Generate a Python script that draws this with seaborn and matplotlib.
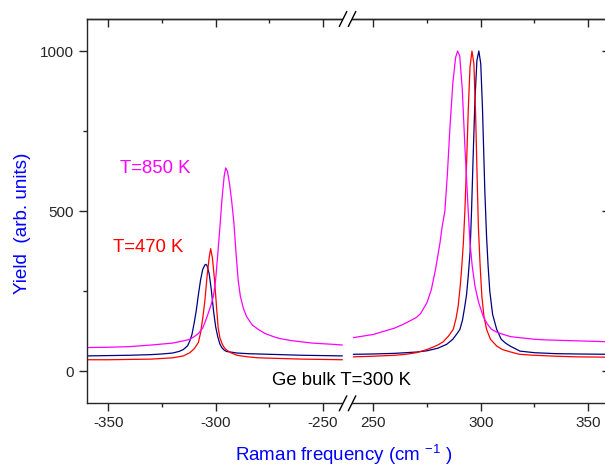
import pandas as pd
import matplotlib
matplotlib.use('Agg')
import matplotlib.pyplot as plt
import matplotlib.ticker as mtick
from matplotlib.patches import Polygon
from matplotlib.lines import Line2D
import seaborn as sns

# --- data: anti-Stokes (left) and Stokes (right) parts ---
labels = ['T=300 K', 'T=470 K', 'T=850 K']
colors = {'T=300 K': '#000080', 'T=470 K': '#ff0000', 'T=850 K': '#ff00ff'}

x300_as = [-360, -350, -340, -330, -325, -320, -317, -315, -313, -312, -311, -310, -309, -308, -307,
           -306, -305, -304.5, -304, -303, -302, -301, -300, -299, -298, -297, -296, -295, -293, -290,
           -285, -280, -270, -260, -250, -241]
y300_as = [48, 49, 50, 52, 54, 57, 62, 68, 80, 95, 115, 150, 190, 240, 285,
           318, 332, 334, 330, 305, 255, 190, 140, 108, 85, 73, 66, 62, 60, 57,
           55, 54, 52, 50, 49, 48]

x470_as = [-360, -350, -340, -330, -320, -315, -312, -310, -308, -307, -306, -305, -304, -303, -302.3,
           -301.5, -300.5, -299.5, -298.8, -298, -297, -296, -295, -293, -290, -285, -280, -270, -260,
           -250, -241]
y470_as = [36, 36, 37, 38, 42, 48, 58, 70, 90, 120, 165, 220, 295, 355, 383,
           355, 285, 195, 135, 105, 86, 74, 67, 58, 50, 45, 42, 40, 38,
           37, 36]

x850_as = [-360, -350, -340, -330, -320, -315, -312, -310, -308, -306, -305, -304, -303, -302, -301,
           -300, -299, -298, -297, -296, -295.3, -294.5, -293.5, -292.5, -291.5, -290.5, -289.5, -288.5,
           -287, -285.5, -283, -280, -277, -273, -270, -265, -260, -255, -250, -245, -241]
y850_as = [74, 75, 77, 82, 88, 95, 100, 108, 118, 135, 152, 170, 190, 210, 235,
           285, 365, 450, 540, 610, 635, 625, 585, 530, 465, 370, 285, 235,
           195, 170, 145, 130, 118, 108, 102, 96, 92, 88, 86, 84, 82]

x300_s = [240.7, 250, 260, 270, 275, 280, 284.1, 287, 289, 290.3, 291.5, 292.5, 293.4, 294.2, 295,
          295.7, 296.5, 297.3, 298.2, 299.1, 300, 300.8, 301.9, 302.7, 303.4, 304.2, 305.5, 307.4,
          309.5, 311.5, 313.6, 318.2, 325, 335, 345, 360]
y300_s = [53, 54, 56, 60, 64, 72, 84, 100, 118, 131, 160, 200, 240, 300, 370,
          500, 680, 850, 970, 1000, 960, 820, 560, 420, 330, 250, 178, 131,
          100, 88, 79, 63, 58, 55, 54, 53]

x470_s = [240.7, 250, 260, 265, 270, 272, 275, 278, 280, 282.5, 285, 287.2, 288.5, 289.5, 290.5,
          291.2, 291.9, 292.6, 293.4, 294.2, 295, 295.9, 296.8, 297.6, 298.4, 298.9, 299.7, 300.5,
          301.5, 302.7, 304.5, 307.4, 310, 314, 318, 325, 335, 345, 360]
y470_s = [45, 47, 50, 53, 58, 62, 68, 76, 82, 92, 110, 131, 165, 204, 270,
          330, 401, 500, 650, 820, 950, 1000, 960, 800, 580, 450, 330, 235,
          170, 131, 100, 79, 68, 60, 53, 50, 47, 45, 44]

x850_s = [240.7, 250, 260, 265, 270, 272, 275, 277, 279, 281, 282, 283.3, 284.5, 285.6, 287,
          288.3, 289.2, 290.2, 291.4, 292.6, 293.4, 294.2, 295, 296, 297.3, 299, 301.1, 303, 305,
          307.5, 310.5, 314, 318, 325, 330, 340, 350, 360]
y850_s = [105, 115, 135, 150, 168, 180, 215, 255, 320, 400, 450, 500, 620, 755, 900,
          980, 1000, 985, 880, 703, 600, 495, 401, 330, 266, 215, 172, 148, 131,
          122, 115, 108, 105, 100, 98, 96, 94, 92]

left_df = pd.concat([
    pd.DataFrame({'x': x300_as, 'y': y300_as, 'series': 'T=300 K'}),
    pd.DataFrame({'x': x470_as, 'y': y470_as, 'series': 'T=470 K'}),
    pd.DataFrame({'x': x850_as, 'y': y850_as, 'series': 'T=850 K'}),
])
right_df = pd.concat([
    pd.DataFrame({'x': x300_s, 'y': y300_s, 'series': 'T=300 K'}),
    pd.DataFrame({'x': x470_s, 'y': y470_s, 'series': 'T=470 K'}),
    pd.DataFrame({'x': x850_s, 'y': y850_s, 'series': 'T=850 K'}),
])

sns.set_style('ticks')
plt.rcParams['font.family'] = ['Liberation Sans', 'DejaVu Sans']
plt.rcParams['mathtext.fontset'] = 'custom'
plt.rcParams['mathtext.rm'] = 'Liberation Sans'
plt.rcParams['mathtext.it'] = 'Liberation Sans:italic'
plt.rcParams['axes.unicode_minus'] = False

fig = plt.figure(figsize=(6.05, 4.67), dpi=100)
bottom, height = 0.1364, 0.8229
ax1 = fig.add_axes([0.1433, bottom, 0.573 - 0.1433, height])
ax2 = fig.add_axes([0.573, bottom, 1.0078 - 0.573, height])

for ax, df in [(ax1, left_df), (ax2, right_df)]:
    sns.lineplot(data=df, x='x', y='y', hue='series', hue_order=labels, palette=colors,
                 estimator=None, sort=False, legend=False, linewidth=0.9, ax=ax)
    ax.set_ylim(-100, 1100)
    ax.set_xlabel('')
    ax.set_ylabel('')
    ax.xaxis.set_major_locator(mtick.MultipleLocator(50))
    ax.xaxis.set_minor_locator(mtick.MultipleLocator(25))
    ax.yaxis.set_major_locator(mtick.MultipleLocator(500))
    ax.yaxis.set_minor_locator(mtick.MultipleLocator(250))
    ax.tick_params(axis='x', which='major', direction='out', length=5.5, width=1, labelsize=11, pad=4)
    ax.tick_params(axis='x', which='minor', direction='out', length=3.2, width=1)
    for s in ax.spines.values():
        s.set_linewidth(1)
    # top axis with inward ticks, no labels
    top = ax.secondary_xaxis('top')
    top.xaxis.set_major_locator(mtick.MultipleLocator(50))
    top.xaxis.set_minor_locator(mtick.MultipleLocator(25))
    top.tick_params(which='major', direction='in', length=5.5, width=1, labeltop=False)
    top.tick_params(which='minor', direction='in', length=3.2, width=1)
    top.spines['top'].set_linewidth(1)

ax1.set_xlim(-360, -239)
ax2.set_xlim(237.6, 360)

ax1.spines['right'].set_visible(False)
ax2.spines['left'].set_visible(False)
ax1.tick_params(axis='y', which='major', direction='out', length=5.5, width=1, labelsize=11, pad=4)
ax1.tick_params(axis='y', which='minor', direction='out', length=3.2, width=1)
ax2.tick_params(axis='y', which='both', left=False, labelleft=False, right=True, direction='in', width=1)
ax2.tick_params(axis='y', which='major', length=5.5)
ax2.tick_params(axis='y', which='minor', length=3.2)

# annotations
ax1.text(-328.2, 632, 'T=850 K', color='#ff00ff', fontsize=13.3, ha='center', va='center')
ax1.text(-331.2, 386, 'T=470 K', color='#ff0000', fontsize=13.3, ha='center', va='center')
fig.text(0.5648, 0.1848, 'Ge bulk T=300 K', color='black', fontsize=13.3, ha='center', va='center')

# axis titles
fig.text(0.5686, 0.026, 'Raman frequency (cm $^{-1}$ )', color='#0000ff', fontsize=13.5,
         ha='center', va='center')
fig.text(0.037, 1 - 223 / 467, 'Yield  (arb. units)', color='#0000ff', fontsize=13.6,
         rotation=90, ha='center', va='center')

# axis break marks on top and bottom spines
W, H = 605.0, 467.0
for yspine in (19.0, 403.3):
    gap = Polygon([((339.3 + 1.5) / W, 1 - (yspine + 3) / H),
                   ((346.7 - 1.5) / W, 1 - (yspine - 3) / H),
                   ((356 - 1.5) / W, 1 - (yspine - 3) / H),
                   ((348.3 + 1.5) / W, 1 - (yspine + 3) / H)],
                  closed=True, transform=fig.transFigure, facecolor='white', edgecolor='none',
                  zorder=5)
    fig.patches.append(gap)
    for x0 in (339.3, 348.3):
        fig.lines.append(Line2D([x0 / W, (x0 + 7.5) / W],
                                [1 - (yspine + 7.5) / H, 1 - (yspine - 7.5) / H],
                                transform=fig.transFigure, color='black', linewidth=1, zorder=6))

fig.savefig('out.png', dpi=100)
